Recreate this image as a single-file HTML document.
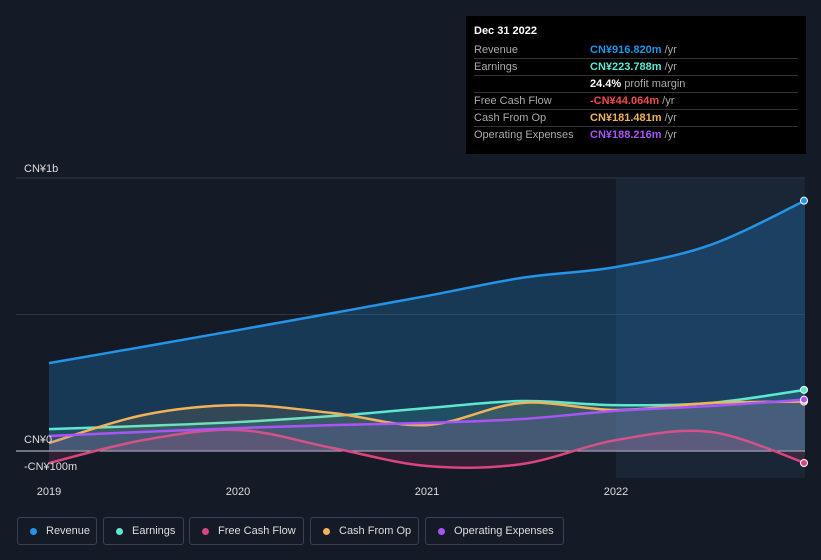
<!DOCTYPE html>
<html><head><meta charset="utf-8"><style>
body{margin:0;background:#151b26;font-family:"Liberation Sans",sans-serif;}
#wrap{position:relative;width:821px;height:560px;overflow:hidden;background:#151b26;}
svg{position:absolute;left:0;top:0}
.tip{position:absolute;left:466px;top:16px;width:340px;height:138px;background:#000;color:#fff;font-size:11px}
.row{position:absolute;left:8px;width:324px;height:17px;border-bottom:1px solid #333;}
.row .l{position:absolute;left:0;top:3px;color:#aaa}
.row .v{position:absolute;left:116px;top:3px;font-weight:bold}
.row .v span{color:#aaa;font-weight:normal}
.leg{position:absolute;top:517px;height:28px;border:1px solid #3a4250;border-radius:3px;color:#ddd;font-size:11px;box-sizing:border-box;line-height:26px;padding-left:28px}
.leg i{position:absolute;left:12px;top:10px;width:7px;height:7px;border-radius:50%}
</style></head><body>
<div id="wrap">
<svg id="chart" width="821" height="560"></svg>
<div class="tip">
<div style="position:absolute;left:8px;top:9px;font-weight:bold">Dec 31 2022</div>
<div class="row" style="top:25px"><span class="l">Revenue</span><span class="v" style="color:#2394e6">CN¥916.820m <span>/yr</span></span></div>
<div class="row" style="top:42px"><span class="l">Earnings</span><span class="v" style="color:#5ee8d0">CN¥223.788m <span>/yr</span></span></div>
<div class="row" style="top:59px"><span class="v" style="color:#fff">24.4% <span>profit margin</span></span></div>
<div class="row" style="top:76px"><span class="l">Free Cash Flow</span><span class="v" style="color:#f04b4b">-CN¥44.064m <span>/yr</span></span></div>
<div class="row" style="top:93px"><span class="l">Cash From Op</span><span class="v" style="color:#f0b35a">CN¥181.481m <span>/yr</span></span></div>
<div class="row" style="top:110px;border:none"><span class="l">Operating Expenses</span><span class="v" style="color:#a855f7">CN¥188.216m <span>/yr</span></span></div>
</div>
<div class="leg" style="left:17px;width:80px"><i style="background:#2394e6"></i>Revenue</div>
<div class="leg" style="left:103px;width:81px"><i style="background:#5ee8d0"></i>Earnings</div>
<div class="leg" style="left:189px;width:115px"><i style="background:#d9457f"></i>Free Cash Flow</div>
<div class="leg" style="left:310px;width:109px"><i style="background:#f0b35a"></i>Cash From Op</div>
<div class="leg" style="left:425px;width:139px"><i style="background:#a855f7"></i>Operating Expenses</div>
</div>
<script>
const years=[2019,2019.5,2020,2020.5,2021,2021.5,2022,2022.5,2023];
const revenue=[322,382,443,505,568,634,674,755,917];
const earnings=[80,92,106,128,157,183,168,176,224];
const fcf=[-44,40,77,11,-55,-48,40,70,-44];
const cfo=[29,132,168,139,95,176,150,176,181];
const opex=[55,70,84,95,103,117,147,165,188];
const xLabels=["2019","2020","2021","2022"];
const NS="http://www.w3.org/2000/svg";
const svg=document.getElementById('chart');
const X=v=>49+(v-2019)*189, Y=v=>451-v*0.273;
function el(t,a,p){const e=document.createElementNS(NS,t);for(const k in a)e.setAttribute(k,a[k]);(p||svg).appendChild(e);return e;}
let r=el('rect',{x:X(2022),y:178,width:805-X(2022),height:300,fill:'#1a2535'});

[1000,500].forEach(v=>{let g=el('line',{x1:16,x2:805,y1:Y(v),y2:Y(v),stroke:'#2e3642','stroke-width':1});});
let z=el('line',{x1:16,x2:805,y1:Y(0),y2:Y(0),stroke:'#ccc','stroke-width':1});
function path(vals){const p=years.map((y,i)=>[X(y),Y(vals[i])]);let d=`M${p[0][0]},${p[0][1]}`;
for(let i=0;i<p.length-1;i++){const p0=p[i-1]||p[i],p1=p[i],p2=p[i+1],p3=p[i+2]||p2;
d+=` C${p1[0]+(p2[0]-p0[0])/6},${p1[1]+(p2[1]-p0[1])/6} ${p2[0]-(p3[0]-p1[0])/6},${p2[1]-(p3[1]-p1[1])/6} ${p2[0]},${p2[1]}`;}return d;}
const series=[['revenue',revenue,'#2394e6',0.25],['earnings',earnings,'#5ee8d0',0.12],['free-cash-flow',fcf,'#d9457f',0.15],['cash-from-op',cfo,'#f0b35a',0.12],['operating-expenses',opex,'#a855f7',0.12]];
series.forEach(([n,v,c,o])=>{const d=path(v);
let a=el('path',{d:d+` L${X(2023)},${Y(0)} L${X(2019)},${Y(0)} Z`,fill:c,'fill-opacity':o});
let l=el('path',{d,fill:'none',stroke:c,'stroke-width':2.5});
let m=el('circle',{cx:X(2023)-1,cy:Y(v[v.length-1]),r:3.5,fill:c,stroke:'#fff','stroke-width':1});});
[['CN¥1b',172],['CN¥0',443],['-CN¥100m',470]].forEach(([t,y])=>{let e=el('text',{x:24,y:y,fill:'#ddd','font-size':11});e.textContent=t;});
xLabels.forEach(t=>{let e=el('text',{x:X(+t),y:495,fill:'#ddd','font-size':11,'text-anchor':'middle'});e.textContent=t;});
</script>
</body></html>
